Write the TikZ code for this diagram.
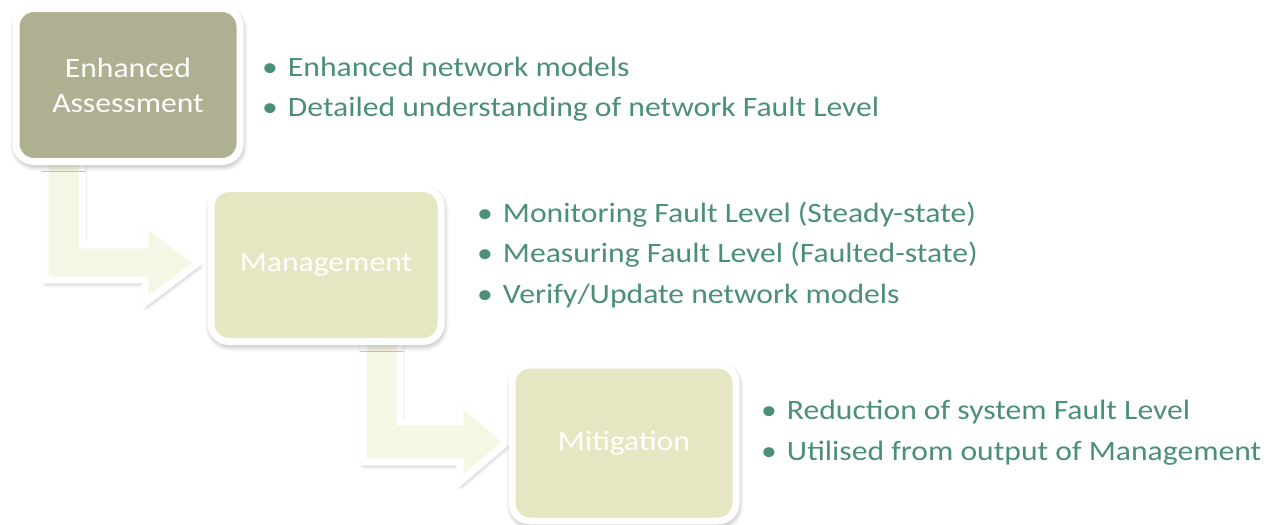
\documentclass[tikz,border=0pt]{standalone}
\usepackage{fontspec}
\setmainfont{Carlito}[FakeStretch=1.13]
\usetikzlibrary{shadows.blur,calc}
\definecolor{boxdark}{RGB}{175,175,145}
\definecolor{boxlight}{RGB}{230,230,194}
\definecolor{arrowfill}{RGB}{246,246,228}
\definecolor{txtgreen}{RGB}{75,143,118}
\tikzset{
  stagebox/.style={rectangle, rounded corners=18pt, draw=white, line width=7pt,
    minimum width=224pt, minimum height=153pt, text=white, align=center,
    font=\fontsize{28}{35}\selectfont,
    blur shadow={shadow xshift=1pt, shadow yshift=-3pt, shadow blur radius=7pt, shadow blur steps=10, shadow opacity=45}},
  bentarrow/.style={fill=arrowfill, draw=white, line width=7pt, line join=miter,
    blur shadow={shadow xshift=1pt, shadow yshift=-3pt, shadow blur radius=5pt, shadow blur steps=8, shadow opacity=35}},
  bullettext/.style={anchor=base west, text=txtgreen, font=\fontsize{28}{34}\selectfont, inner sep=0pt}
}
\begin{document}
\begin{tikzpicture}[x=1pt,y=-1pt]
\useasboundingbox (0,0) rectangle (1270,525);
% arrows (behind boxes)
\draw[bentarrow] (45,150) -- (82,150) -- (82,245) -- (145,245) -- (145,223) -- (198,263)
  -- (145,303) -- (145,280) -- (45,280) -- cycle;
\draw[bentarrow] (363,330) -- (400,330) -- (400,422) -- (460,422) -- (460,402) -- (507,442)
  -- (460,482) -- (460,462) -- (363,462) -- cycle;
% boxes
\node[stagebox, fill=boxdark, minimum width=224pt, minimum height=153pt] (b1) at (128,85) {Enhanced\\Assessment};
\node[stagebox, fill=boxlight, minimum width=230pt, minimum height=153pt] (b2) at (326,265) {Management};
\node[stagebox, fill=boxlight, minimum width=224pt, minimum height=156pt] (b3) at (624,443) {Mitigation};
% bullet lists
\node[bullettext] (t1) at (262,76) {\textbullet\hspace{10pt}Enhanced network models};
\node[bullettext] (t2) at (262,116) {\textbullet\hspace{10pt}Detailed understanding of network Fault Level};
\node[bullettext] (t3) at (477,222) {\textbullet\hspace{10pt}Monitoring Fault Level (Steady-state)};
\node[bullettext] (t4) at (477,262) {\textbullet\hspace{10pt}Measuring Fault Level (Faulted-state)};
\node[bullettext] (t5) at (477,303) {\textbullet\hspace{10pt}Verify/Update network models};
\node[bullettext] (t6) at (761,419) {\textbullet\hspace{10pt}Reduction of system Fault Level};
\node[bullettext] (t7) at (761,460) {\textbullet\hspace{10pt}Utilised from output of Management};
\end{tikzpicture}
\end{document}
